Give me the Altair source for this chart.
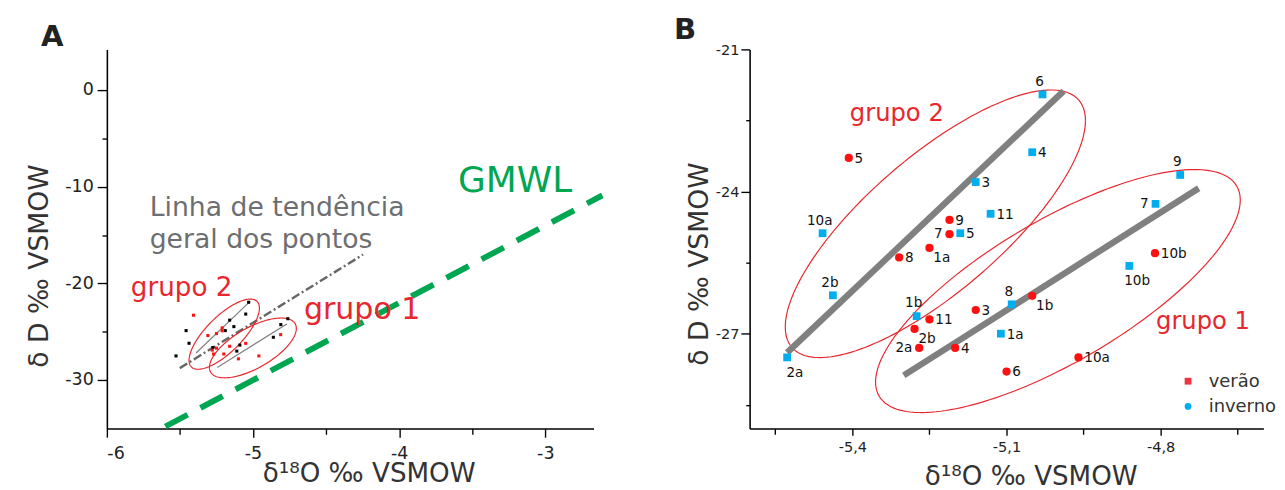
import altair as alt
import pandas as pd
import numpy as np

FONT = "DejaVu Sans"
RED = "#ff1010"
LRED = "#ee3340"
BLUE = "#00aeef"
ERED = "#e8262d"
GREEN = "#00a651"
GRAY = "#808080"
TXT = "#333333"

# ---- isotope data (panel B values, also plotted in panel A) ----
inv_id = ["6", "4", "3", "11", "5", "10a", "2b", "1b", "8", "1a", "2a", "9", "7", "10b"]
inv_x = [-5.030, -5.050, -5.160, -5.131, -5.190, -5.458, -5.438, -5.275, -5.090, -5.111, -5.527, -4.762, -4.810, -4.861]
inv_y = [-21.95, -23.17, -23.80, -24.47, -24.88, -24.88, -26.19, -26.63, -26.38, -27.00, -27.50, -23.65, -24.26, -25.57]
inv_pos = ["a", "r", "r", "r", "r", "a", "a", "a", "a", "r", "b", "a", "l", "b"]

ver_id = ["5", "9", "7", "1a", "8", "3", "1b", "11", "2b", "2a", "4", "6", "10a", "10b"]
ver_x = [-5.407, -5.211, -5.211, -5.250, -5.309, -5.160, -5.050, -5.250, -5.279, -5.270, -5.200, -5.100, -4.960, -4.811]
ver_y = [-23.29, -24.60, -24.90, -25.19, -25.39, -26.50, -26.20, -26.70, -26.90, -27.30, -27.30, -27.80, -27.50, -25.30]
ver_pos = ["r", "r", "l", "br", "r", "r", "br", "r", "br", "l", "r", "r", "r", "r"]

# ---- lines ----
gmwl_x = [-5.60, -2.61]
gmwl_y = [-34.8, -10.9]
trend_x = [-5.501, -4.247]
trend_y = [-28.76, -17.02]
# group trend lines, panel B
gB_name = ["grupo 1", "grupo 1", "grupo 2", "grupo 2"]
gB_x = [-5.300, -4.726, -5.527, -4.989]
gB_y = [-27.88, -23.93, -27.40, -21.88]
# group trend lines, panel A
gA_x = [-5.245, -4.769, -5.39, -5.02]
gA_y = [-28.70, -24.20, -27.20, -21.85]

# ---- ellipses: centre and two conjugate semi-axes (data units) ----
ellB = {"grupo 1": ([-5.000, -26.10], [0.3549, 1.920], [0.0, -1.700]),
        "grupo 2": ([-5.2385, -24.68], [0.2921, 2.177], [0.0, -1.799])}
ellA = {"grupo 1": ([-5.001, -26.67], [0.2973, 2.012], [0.0, -2.347]),
        "grupo 2": ([-5.197, -25.25], [0.2407, 2.698], [0.0, -2.427])}

# ---- annotations ----
annA_text = ["Linha de tendência", "geral dos pontos"]
annA_x = [-5.707, -5.707]
annA_y = [-13.0, -16.3]
grpA_text = ["grupo 2", "grupo 1"]
grpA_x = [-5.836, -4.652]
grpA_y = [-21.3, -23.7]
gmwl_lab_x = [-3.597]
gmwl_lab_y = [-10.5]
grpB_text = ["grupo 2", "grupo 1"]
grpB_x = [-5.405, -4.809]
grpB_y = [-22.52, -26.91]

xA_ticks = [-6, -5.5, -5, -4.5, -4, -3.5, -3]
yA_ticks = [-30, -25, -20, -15, -10, -5, 0]
xB_ticks = [-5.55, -5.4, -5.25, -5.1, -4.95, -4.8, -4.65]
yB_ticks = [-28.5, -27, -25.5, -24, -22.5, -21]

# ---------------- tables ----------------
pts = pd.concat([
    pd.DataFrame({"season": "inverno", "id": inv_id, "x": inv_x, "y": inv_y, "pos": inv_pos}),
    pd.DataFrame({"season": "verão", "id": ver_id, "x": ver_x, "y": ver_y, "pos": ver_pos}),
], ignore_index=True)
inv = pts[pts.season == "inverno"]
ver = pts[pts.season == "verão"]


def ellipse_table(spec):
    rows = []
    t = np.linspace(0, 2 * np.pi, 181)
    for name, (c, a, b) in spec.items():
        for i, tt in enumerate(t):
            rows.append({"g": name, "t": i,
                         "x": c[0] + np.cos(tt) * a[0] + np.sin(tt) * b[0],
                         "y": c[1] + np.cos(tt) * a[1] + np.sin(tt) * b[1]})
    return pd.DataFrame(rows)


ellA_df = ellipse_table(ellA)
ellB_df = ellipse_table(ellB)
gA_df = pd.DataFrame({"g": gB_name, "x": gA_x, "y": gA_y})
gB_df = pd.DataFrame({"g": gB_name, "x": gB_x, "y": gB_y})
gmwl_df = pd.DataFrame({"x": gmwl_x, "y": gmwl_y})
trend_df = pd.DataFrame({"x": trend_x, "y": trend_y})

XTITLE = "δ¹⁸O ‰ VSMOW"
YTITLE = "δ D ‰ VSMOW"
MAJOR_B = "abs((datum.value + 5.4) / 0.3 - round((datum.value + 5.4) / 0.3)) < 0.01"

# ---------------- panel A ----------------
xA = alt.X("x:Q", title=XTITLE,
           scale=alt.Scale(domain=[-6, -2.67], nice=False, zero=False),
           axis=alt.Axis(values=xA_ticks, grid=False,
                         labelExpr="datum.value % 1 == 0 ? '' + datum.value : ''",
                         tickSize={"condition": {"test": "datum.value % 1 != 0", "value": 6}, "value": 9},
                         labelFontSize=18, labelPadding=8,
                         titleFontSize=27, titleX=270, titleY=55,
                         titleAlign="center", titleBaseline="alphabetic"))
yA = alt.Y("y:Q", title=YTITLE,
           scale=alt.Scale(domain=[-35, 4.2], nice=False, zero=False),
           axis=alt.Axis(values=yA_ticks, grid=False,
                         labelExpr="datum.value % 10 == 0 ? '' + datum.value : ''",
                         tickSize={"condition": {"test": "datum.value % 10 != 0", "value": 5}, "value": 10},
                         labelFontSize=18, labelPadding=4,
                         titleFontSize=27.5, titleAngle=270, titleX=-61, titleY=223,
                         titleAlign="center", titleBaseline="alphabetic"))

A_gmwl = alt.Chart(gmwl_df).mark_line(color=GREEN, strokeWidth=6, strokeDash=[26, 15], clip=False).encode(x=xA, y=yA)
A_trend = alt.Chart(trend_df).mark_line(color="#666666", strokeWidth=2.5, strokeDash=[9, 3, 2, 3]).encode(x=xA, y=yA)
A_ell = alt.Chart(ellA_df).mark_line(color=ERED, strokeWidth=1.2).encode(
    x=xA, y=yA, detail="g:N", order="t:Q")
A_glines = alt.Chart(gA_df).mark_line(color=GRAY, strokeWidth=1.2).encode(x=xA, y=yA, detail="g:N")
A_inv = alt.Chart(inv).mark_square(size=10, color="#000000", opacity=1).encode(x=xA, y=yA)
A_ver = alt.Chart(ver).mark_square(size=10, color=RED, opacity=1).encode(x=xA, y=yA)
A_ann = alt.Chart(pd.DataFrame({"t": annA_text, "x": annA_x, "y": annA_y})).mark_text(
    align="left", baseline="alphabetic", fontSize=27.5, color="#6d6e71", font=FONT).encode(x=xA, y=yA, text="t:N")
A_grp = alt.Chart(pd.DataFrame({"t": grpA_text, "x": grpA_x, "y": grpA_y, "s": [27, 31]})).mark_text(
    align="left", baseline="alphabetic", color=ERED, font=FONT).encode(
    x=xA, y=yA, text="t:N", size=alt.Size("s:Q", scale=None, legend=None))
A_gmwl_lab = alt.Chart(pd.DataFrame({"t": ["GMWL"], "x": gmwl_lab_x, "y": gmwl_lab_y})).mark_text(
    align="left", baseline="alphabetic", fontSize=37, color=GREEN, font=FONT).encode(x=xA, y=yA, text="t:N")

panelA = alt.layer(A_gmwl, A_trend, A_ell, A_glines, A_inv, A_ver, A_ann, A_grp, A_gmwl_lab).properties(
    width=502, height=391,
    title=alt.TitleParams("A", anchor="start", frame="group", fontSize=30, fontWeight="bold",
                          font=FONT, color="#222222", dx=-68, offset=-2))

# ---------------- panel B ----------------
xB = alt.X("x:Q", title=XTITLE,
           scale=alt.Scale(domain=[-5.6, -4.6], nice=False, zero=False),
           axis=alt.Axis(values=xB_ticks, grid=False,
                         labelExpr=MAJOR_B + " ? replace('' + datum.value, '.', ',') : ''",
                         tickSize={"condition": {"test": "!(" + MAJOR_B + ")", "value": 6}, "value": 7},
                         labelFontSize=15, labelPadding=5,
                         titleFontSize=27, titleX=290, titleY=58,
                         titleAlign="center", titleBaseline="alphabetic"))
yB = alt.Y("y:Q", title=YTITLE,
           scale=alt.Scale(domain=[-29, -21], nice=False, zero=False),
           axis=alt.Axis(values=yB_ticks, grid=False,
                         labelExpr="datum.value % 1 == 0 ? '' + datum.value : ''",
                         tickSize={"condition": {"test": "datum.value % 1 != 0", "value": 4}, "value": 9},
                         labelFontSize=15, labelPadding=2,
                         titleFontSize=27.5, titleAngle=270, titleX=-43, titleY=221,
                         titleAlign="center", titleBaseline="alphabetic"))

B_ell = alt.Chart(ellB_df).mark_line(color=ERED, strokeWidth=1.2).encode(
    x=xB, y=yB, detail="g:N", order="t:Q")
B_glines = alt.Chart(gB_df).mark_line(color=GRAY, strokeWidth=6.5).encode(x=xB, y=yB, detail="g:N")
B_inv = alt.Chart(inv).mark_square(size=64, color=BLUE, opacity=1).encode(x=xB, y=yB)
B_ver = alt.Chart(ver).mark_circle(size=72, color=RED, opacity=1).encode(x=xB, y=yB)

lab_styles = {
    "r": dict(align="left", dx=6, dy=1),
    "l": dict(align="right", dx=-7, dy=0),
    "a": dict(align="center", dx=-3, dy=-13),
    "b": dict(align="center", dx=8, dy=16),
    "br": dict(align="left", dx=4, dy=11),
}
B_labels = []
for key, st in lab_styles.items():
    B_labels.append(
        alt.Chart(pts).transform_filter(alt.datum.pos == key).mark_text(
            baseline="middle", fontSize=14, color="#111111", font=FONT, **st).encode(x=xB, y=yB, text="id:N"))

B_grp = alt.Chart(pd.DataFrame({"t": grpB_text, "x": grpB_x, "y": grpB_y})).mark_text(
    align="left", baseline="alphabetic", fontSize=25, color=ERED, font=FONT).encode(x=xB, y=yB, text="t:N")

leg = alt.Legend(title=None, orient="none", legendX=443, legendY=333, symbolOpacity=1,
                 labelFontSize=18.5, labelFont=FONT, labelColor=TXT, symbolSize=49, rowPadding=7,
                 labelOffset=12, symbolStrokeWidth=0, padding=0)
B_leg = alt.Chart(pts).mark_point(filled=True, opacity=0, size=49).encode(
    x=xB, y=yB,
    color=alt.Color("season:N", scale=alt.Scale(domain=["verão", "inverno"], range=[LRED, BLUE]), legend=leg),
    shape=alt.Shape("season:N", scale=alt.Scale(domain=["verão", "inverno"], range=["square", "circle"]), legend=leg),
)

panelB = alt.layer(B_ell, B_glines, B_inv, B_ver, *B_labels, B_grp, B_leg).properties(
    width=530, height=391,
    title=alt.TitleParams("B", anchor="start", frame="group", fontSize=30, fontWeight="bold",
                          font=FONT, color="#222222", dx=-78, offset=-2))

chart = alt.hconcat(panelA, panelB, spacing=61).resolve_scale(
    x="independent", y="independent", color="independent", shape="independent"
).properties(padding={"left": 19, "top": 0, "right": 0, "bottom": 0}).configure(
    font=FONT
).configure_view(stroke=None).configure_axis(
    labelFont=FONT, titleFont=FONT, labelColor="#222222", titleColor=TXT, titleFontWeight="normal",
    domainColor="#000000", domainWidth=1.6, tickColor="#000000", tickWidth=1.4
)

chart.save("out.html", embed_options={"renderer": "svg", "actions": False})
